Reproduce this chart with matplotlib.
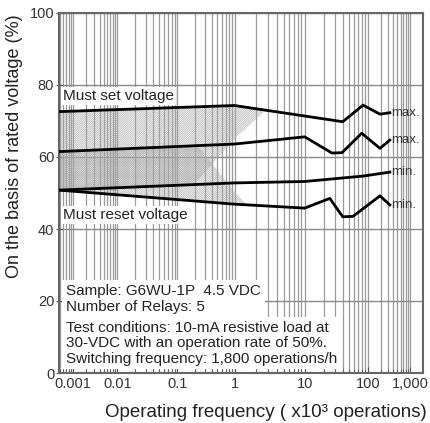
import matplotlib
matplotlib.use("Agg")
import matplotlib.pyplot as plt
import numpy as np
from matplotlib.ticker import FixedLocator, NullFormatter, FixedFormatter

plt.rcParams["font.family"] = ["Liberation Sans", "DejaVu Sans"]
plt.rcParams["hatch.linewidth"] = 0.4

# Operating frequency (x10^3 operations) vs. voltage (% of rated voltage)
set_max_x = [0.00048, 1, 40, 84, 194, 333]
set_max_y = [72.6, 74.3, 69.8, 74.4, 71.9, 72.3]
reset_max_x = [0.00048, 1, 10, 27, 39, 80, 194, 333]
reset_max_y = [61.5, 63.6, 65.6, 61.1, 61.2, 66.6, 62.4, 64.7]
set_min_x = [0.00048, 1, 10, 84, 333]
set_min_y = [50.8, 52.8, 53.2, 54.7, 55.8]
reset_min_x = [0.00048, 1, 10, 25, 40, 58, 194, 333]
reset_min_y = [50.8, 46.9, 45.8, 48.5, 43.4, 43.5, 49.2, 46.7]

end_labels = ["max.", "max.", "min.", "min."]
xtick_values = [0.001, 0.01, 0.1, 1, 10, 100, 1000]
xtick_labels = ["0.001", "0.01", "0.1", "1", "10", "100", "1,000"]
yticks = [0, 20, 40, 60, 80, 100]

# the printed decades are not evenly spaced, follow them with a piecewise log scale
knots_log = [-4, -3, -2, -1, 0, 1, 2, 3, 4]
knots_px = [30, 74, 118, 178, 235, 305, 368, 410, 452]


def forward(x):
    lx = np.log10(np.clip(np.asarray(x, dtype=float), 1e-12, None))
    return np.interp(lx, knots_log, knots_px)


def inverse(p):
    return 10 ** np.interp(p, knots_px, knots_log)


fig = plt.figure(figsize=(4.30, 4.23), dpi=100)
ax = fig.add_axes([59 / 430, 50 / 423, 364 / 430, 360 / 423])
ax.set_xscale("function", functions=(forward, inverse))
ax.set_xlim(10 ** -3.32, 10 ** 3.31)
ax.set_ylim(0, 100)

minor = [m * 10.0 ** e for e in range(-4, 4) for m in range(2, 10)]
ax.xaxis.set_major_locator(FixedLocator(xtick_values))
ax.xaxis.set_major_formatter(FixedFormatter(xtick_labels))
ax.xaxis.set_minor_locator(FixedLocator(minor))
ax.xaxis.set_minor_formatter(NullFormatter())
ax.set_yticks(yticks)

ax.set_axisbelow(True)
ax.grid(True, which="both", axis="x", color="#9a9a9a", linewidth=0.9)
ax.grid(True, which="major", axis="y", color="#8a8a8a", linewidth=1.0)

# hatched bands: set voltage (max..min) and reset voltage (max..min)
xs = np.logspace(-3.32, 3.31, 600)
lxs = np.log10(xs)
s_max = np.interp(lxs, np.log10(set_max_x), set_max_y)
s_min = np.interp(lxs, np.log10(set_min_x), set_min_y)
r_max = np.interp(lxs, np.log10(reset_max_x), reset_max_y)
r_min = np.interp(lxs, np.log10(reset_min_x), reset_min_y)

edge_set = 52.5 + 17.9 * (lxs + 0.70)
low = np.maximum(s_min, edge_set)
ax.fill_between(xs, low, s_max, where=low < s_max, facecolor="none",
                edgecolor="#a8a8a8", hatch="/" * 18, linewidth=0, zorder=1)
edge_reset = 62.5 - 20.0 * (lxs + 0.61)
high = np.minimum(r_max, edge_reset)
ax.fill_between(xs, r_min, high, where=high > r_min, facecolor="none",
                edgecolor="#a8a8a8", hatch="\\" * 18, linewidth=0, zorder=1)

lines = [(set_max_x, set_max_y), (reset_max_x, reset_max_y),
         (set_min_x, set_min_y), (reset_min_x, reset_min_y)]
for (lx_, ly_), lab in zip(lines, end_labels):
    ax.plot(lx_, ly_, color="black", linewidth=2.0, zorder=3)
    ax.annotate(lab, (lx_[-1], ly_[-1]), xytext=(1, 0), textcoords="offset points",
                va="center", ha="left", fontsize=9.5, color="#333333", zorder=4)

box = dict(boxstyle="square,pad=0.12", facecolor="white", edgecolor="none")
ax.text(0.011, 0.769, "Must set voltage", transform=ax.transAxes, fontsize=11,
        va="center", ha="left", color="#222222", bbox=box, zorder=4)
ax.text(0.011, 0.439, "Must reset voltage", transform=ax.transAxes, fontsize=11,
        va="center", ha="left", color="#222222", bbox=box, zorder=4)
ax.text(0.019, 0.206, "Sample: G6WU-1P  4.5 VDC\nNumber of Relays: 5",
        transform=ax.transAxes, fontsize=11, va="center", ha="left",
        linespacing=1.13, color="#222222",
        bbox=dict(boxstyle="square,pad=0.25", facecolor="white", edgecolor="none"), zorder=4)
ax.text(0.019, 0.083,
        "Test conditions: 10-mA resistive load at\n30-VDC with an operation rate of 50%.\n"
        "Switching frequency: 1,800 operations/h",
        transform=ax.transAxes, fontsize=11, va="center", ha="left",
        linespacing=1.13, color="#222222",
        bbox=dict(boxstyle="square,pad=0.25", facecolor="white", edgecolor="none"), zorder=4)

for s in ax.spines.values():
    s.set_color("#666666")
    s.set_linewidth(1.5)
ax.tick_params(axis="x", which="major", direction="in", length=4, pad=3,
               labelsize=10.5, colors="#555555", labelcolor="#333333")
ax.tick_params(axis="x", which="minor", direction="in", length=3, colors="#555555")
ax.tick_params(axis="y", direction="inout", length=5, pad=1,
               labelsize=10.5, colors="#555555", labelcolor="#333333")

ax.set_ylabel("On the basis of rated voltage (%)", fontsize=13, color="#222222")
ax.yaxis.set_label_coords(-0.1, 0.63)
ax.set_xlabel("Operating frequency ( x10\u00b3 operations)", fontsize=13.5,
              color="#222222", ha="right")
ax.xaxis.set_label_coords(1.01, -0.085)

fig.savefig("out.png", dpi=100)
